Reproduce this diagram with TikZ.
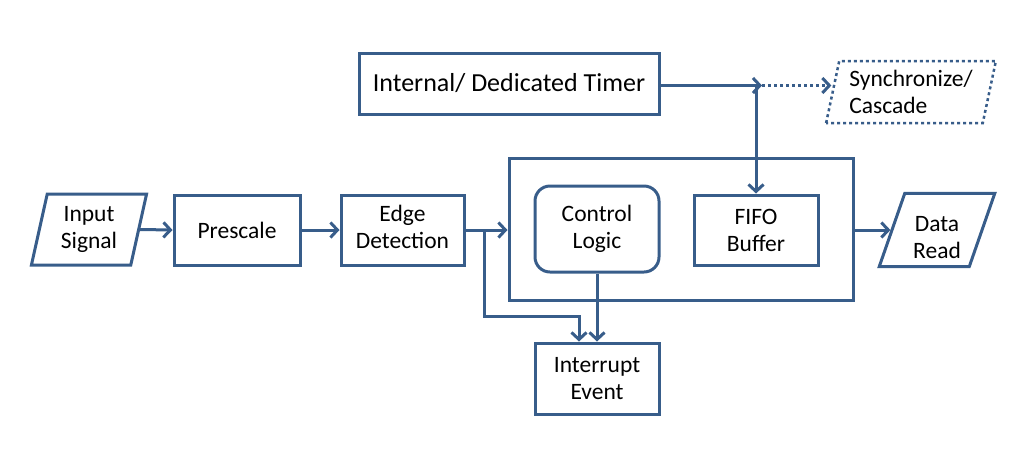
\documentclass[tikz,border=0pt]{standalone}
\usepackage{fontspec}
\setmainfont{Carlito}
\usetikzlibrary{arrows.meta,shapes.geometric,calc}
\definecolor{lc}{RGB}{56,93,138}
\begin{document}
\begin{tikzpicture}[x=1pt,y=-1pt,
 box/.style={draw=lc,line width=3pt,fill=white,minimum width=126pt,minimum height=70pt,align=center,inner sep=0pt,font=\fontsize{23.5}{27}\selectfont},
 para/.style={box,trapezium,trapezium left angle=77,trapezium right angle=103,trapezium stretches=true},
 arr/.style={draw=lc,line width=3pt,-{Straight Barb[length=7pt,width=15pt]}},
 dots/.style={dash pattern=on 3pt off 3pt},
]
\useasboundingbox (0,0) rectangle (1017,459);
\node[para,minimum width=116pt,minimum height=71pt] (in) at (89,229.5) {Input\\Signal};
\node[box,minimum width=126pt] (pre) at (237,230) {Prescale};
\node[box,minimum width=123pt] (edge) at (402.5,230) {\raisebox{3pt}{\begin{tabular}{@{}c@{}}Edge\\Detection\end{tabular}}};
\node[draw=lc,line width=3pt,minimum width=344pt,minimum height=142pt] (big) at (681,229) {};
\node[box,rounded corners=15pt,minimum width=124pt,minimum height=86pt] (ctrl) at (597,229) {Control\\Logic};
\node[box,minimum width=124pt] (fifo) at (756,230) {FIFO\\Buffer};
\node[para,minimum width=116pt,minimum height=70pt,trapezium left angle=75.6,trapezium right angle=104.4] (read) at (937,230) {\begin{tabular}{@{}c@{}}\rule{0pt}{38pt}Data\\Read\end{tabular}};
\node[box,minimum width=300pt,minimum height=61pt,font=\fontsize{26}{30}\selectfont] (timer) at (509,83.5) {Internal/ Dedicated Timer};
\node[para,dots,line width=2.5pt,minimum width=170pt,minimum height=62pt,trapezium left angle=75.5,trapezium right angle=104.5,align=left] (sync) at (911,92) {Synchronize/\\Cascade};
\node[box,minimum width=124pt,minimum height=71pt] (intr) at (597,378.5) {Interrupt\\Event};

\draw[arr] (in.east) -- (pre.west);
\draw[arr] (pre.east) -- (edge.west);
\draw[arr] (edge.east) -- (edge.east -| big.west);
\coordinate (br) at ($(edge.east)+(19,0)$);
\coordinate (bt) at ($(intr.north)+(-18,0)$);
\draw[arr] (br) -- ++(0,86) -| (bt);
\draw[arr] (ctrl.south) -- (intr.north);
\draw[arr] (big.east |- read.west) -- (read.west);
\path (fifo.north) ++(0,-108) coordinate (j);
\coordinate (jt) at ($(j)+(6,0)$);
\draw[arr] (timer.east |- j) -- (jt);
\draw[arr] (j) -- (fifo.north);
\draw[arr,dots] (jt) -- (sync.west |- j);
\end{tikzpicture}
\end{document}
